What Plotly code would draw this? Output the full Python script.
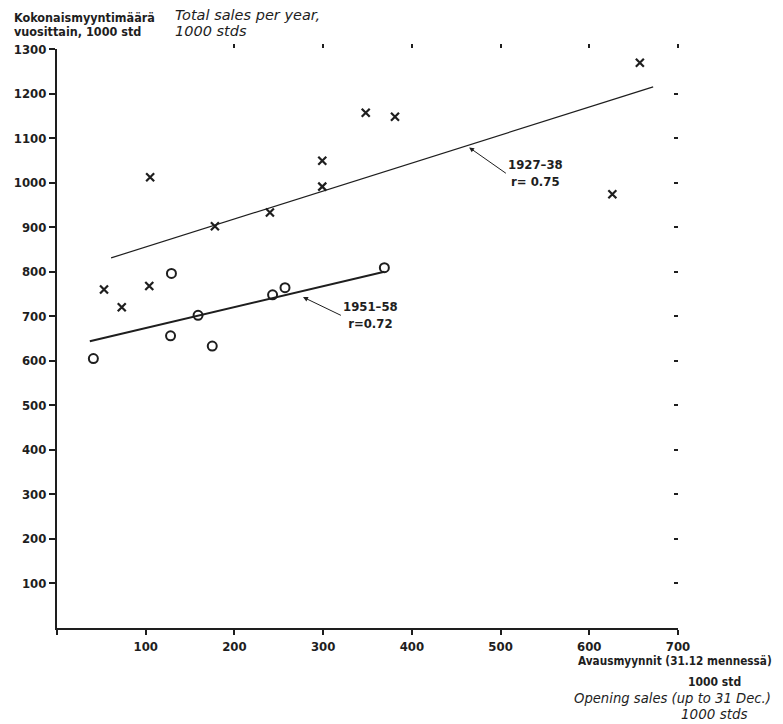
import plotly.graph_objects as go

# ---- data ----
x_1927 = [53, 73, 104, 105, 178, 240, 299, 299, 348, 381, 626, 657]
y_1927 = [760, 720, 768, 1012, 902, 933, 991, 1049, 1157, 1148, 974, 1269]

x_1951 = [41, 128, 129, 159, 175, 243, 257, 369]
y_1951 = [605, 656, 796, 702, 633, 748, 764, 809]

fit_x_1927 = [61, 672]
fit_y_1927 = [831, 1215]
fit_x_1951 = [37, 369]
fit_y_1951 = [644, 800]

x_ticks = [0, 100, 200, 300, 400, 500, 600, 700]
x_ticktext = ["", "100", "200", "300", "400", "500", "600", "700"]
y_ticks = [100, 200, 300, 400, 500, 600, 700, 800, 900, 1000, 1100, 1200, 1300]
top_ticks = [200, 300, 400, 500, 600, 700]
right_ticks = [100, 200, 300, 400, 500, 600, 700, 800, 900, 1000, 1100, 1200]

INK = "#1e1e1e"
COND = "DejaVu Sans Condensed, DejaVu Sans, sans-serif"
ITAL = "DejaVu Sans, sans-serif"

fig = go.Figure()

fig.add_trace(go.Scatter(x=fit_x_1927, y=fit_y_1927, mode="lines",
                         line=dict(color=INK, width=1.2), showlegend=False, hoverinfo="skip"))
fig.add_trace(go.Scatter(x=fit_x_1951, y=fit_y_1951, mode="lines",
                         line=dict(color=INK, width=2), showlegend=False, hoverinfo="skip"))
fig.add_trace(go.Scatter(x=x_1927, y=y_1927, mode="markers",
                         marker=dict(symbol="x-thin-open", size=8, color=INK,
                                     line=dict(color=INK, width=2.2)),
                         showlegend=False, name="1927-38"))
fig.add_trace(go.Scatter(x=x_1951, y=y_1951, mode="markers",
                         marker=dict(symbol="circle-open", size=9, color=INK,
                                     line=dict(color=INK, width=2)),
                         showlegend=False, name="1951-58"))
# invisible trace to create the mirrored tick axes
fig.add_trace(go.Scatter(x=[None], y=[None], xaxis="x2", yaxis="y2", mode="markers",
                         showlegend=False, hoverinfo="skip"))

# page body has an 8px margin: the figure starts at (8, 8) in the window
OFF = 8
WIN_W, WIN_H = 783, 724
PL, PT = 57, 49          # plot-area corner in window pixels
PW, PH = 621, 579        # plot-area size
L, T = PL - OFF, PT - OFF
R_ = WIN_W - PL - PW
B = WIN_H - PT - PH
FIG_W = L + PW + R_
FIG_H = T + PH + B


def px(xp):
    return (xp - PL) / PW


def py(yp):
    return (PT + PH - yp) / PH


def txt(text, x, y, xanchor, family, size, bold=False, italic=False):
    f = dict(family=family, size=size, color=INK)
    if bold:
        f["weight"] = "bold"
    if italic:
        f["style"] = "italic"
    return dict(x=px(x), y=py(y), xref="paper", yref="paper", showarrow=False,
                text=text, xanchor=xanchor, yanchor="middle", font=f, borderpad=0)


annos = [
    dict(x=464.5, y=1079, ax=506, ay=1021, xref="x", yref="y", axref="x", ayref="y",
         text="1927–38<br>r= 0.75", showarrow=True, arrowhead=2, arrowsize=1, arrowwidth=1,
         arrowcolor=INK, xanchor="left", yanchor="middle", align="center",
         font=dict(family=COND, size=13, color=INK, weight="bold")),
    dict(x=277.3, y=743, ax=320, ay=702, xref="x", yref="y", axref="x", ayref="y",
         text="1951–58<br>r=0.72", showarrow=True, arrowhead=2, arrowsize=1, arrowwidth=1,
         arrowcolor=INK, xanchor="left", yanchor="middle", align="center",
         font=dict(family=COND, size=13, color=INK, weight="bold")),
    txt("Kokonaismyyntimäärä", 13, 17, "left", COND, 12.5, bold=True),
    txt("vuosittain, 1000 std", 13, 32, "left", COND, 12.5, bold=True),
    txt("Total sales per year,", 174, 15, "left", ITAL, 14.5, italic=True),
    txt("1000 stds", 174, 31, "left", ITAL, 14.5, italic=True),
    txt("Avausmyynnit (31.12 mennessä)", 577, 661, "left", COND, 11.7, bold=True),
    txt("1000 std", 714, 682, "center", COND, 12, bold=True),
    txt("Opening sales (up to 31 Dec.)", 573, 698, "left", ITAL, 13.2, italic=True),
    txt("1000 stds", 714, 714, "center", ITAL, 13.5, italic=True),
]

tickfont = dict(family=COND, size=13, color=INK, weight="bold")

fig.update_layout(
    width=FIG_W, height=FIG_H,
    margin=dict(l=L, r=R_, t=T, b=B),
    paper_bgcolor="white", plot_bgcolor="white",
    showlegend=False,
    xaxis=dict(range=[0, 700], tickvals=x_ticks, ticktext=x_ticktext, ticks="outside",
               ticklen=5, tickwidth=1.5, tickcolor=INK, showline=True, linewidth=2,
               linecolor=INK, showgrid=False, zeroline=False, automargin=False,
               tickfont=tickfont),
    yaxis=dict(range=[0, 1300], tickvals=y_ticks, ticks="outside", ticklen=6,
               tickwidth=1.5, tickcolor=INK, showline=True, linewidth=2, linecolor=INK,
               showgrid=False, zeroline=False, automargin=False, tickfont=tickfont),
    xaxis2=dict(range=[0, 700], overlaying="x", side="top", anchor="y", tickvals=top_ticks,
                ticks="outside", ticklen=4, tickwidth=1.5, tickcolor=INK, automargin=False,
                showticklabels=False, showline=False, showgrid=False, zeroline=False),
    yaxis2=dict(range=[0, 1300], overlaying="y", side="right", anchor="x", tickvals=right_ticks,
                ticks="inside", ticklen=4, tickwidth=1.5, tickcolor=INK, automargin=False,
                showticklabels=False, showline=False, showgrid=False, zeroline=False),
    annotations=annos,
)

fig.write_html("out.html")
